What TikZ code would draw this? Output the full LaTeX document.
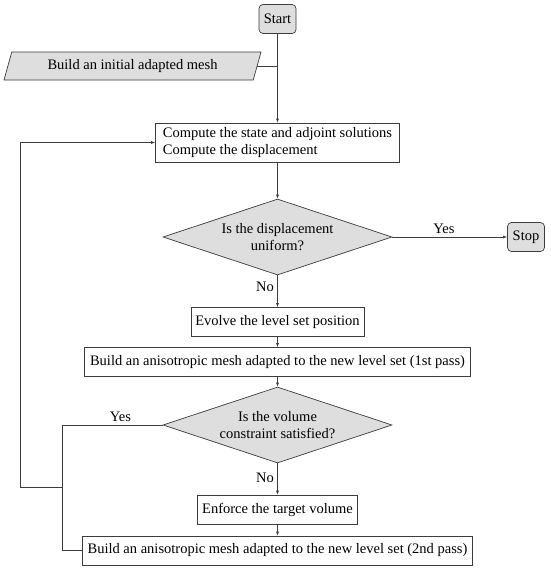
\documentclass[tikz,border=0pt]{standalone}
\usepackage{fontspec}
\setmainfont{Liberation Serif}
\usetikzlibrary{shapes.geometric,arrows.meta,calc}
\definecolor{boxfill}{RGB}{222,222,222}
\definecolor{linec}{RGB}{60,60,60}
\newcommand\fsz{\fontsize{14.5}{16.5}\selectfont}
\begin{document}
\begin{tikzpicture}[x=1pt,y=-1pt,
  every node/.style={font=\fsz, text=black},
  box/.style={draw=linec, line width=0.7pt, fill=white, inner sep=2pt, minimum height=29pt},
  term/.style={box, fill=boxfill, rounded corners=4pt, minimum width=37pt},
  dec/.style={diamond, draw=linec, line width=0.7pt, fill=boxfill, minimum width=229pt, minimum height=76pt, inner sep=0pt, aspect=3, align=center},
  io/.style={trapezium, trapezium left angle=65.6, trapezium right angle=114.4, trapezium stretches body, draw=linec, line width=0.7pt, fill=boxfill, minimum width=257pt, minimum height=28pt, inner sep=2pt},
  ln/.style={draw=linec, line width=0.6pt},
  arr/.style={ln, -{Latex[length=4pt,width=3pt]}}
]
\useasboundingbox (0,0) rectangle (550,570);

\node[term] (start) at (277.5,19) {Start};
\node[io] (init) at (132.5,66) {Build an initial adapted mesh};
\node[box, minimum width=244pt, minimum height=39pt, align=left] (comp) at (277.5,142.5) {Compute the state and adjoint solutions\\Compute the displacement};
\node[dec] (d1) at (277.5,237) {Is the displacement\\uniform?};
\node[term] (stop) at (526,237) {Stop};
\node[box, minimum width=173pt] (evol) at (277.5,322) {Evolve the level set position};
\node[box, minimum width=386pt] (p1) at (277.5,362) {Build an anisotropic mesh adapted to the new level set (1st pass)};
\node[dec] (d2) at (277.5,425) {Is the volume\\constraint satisfied?};
\node[box, minimum width=160pt] (enf) at (277.5,509.5) {Enforce the target volume};
\node[box, minimum width=390pt] (p2) at (277.5,550.5) {Build an anisotropic mesh adapted to the new level set (2nd pass)};

\coordinate (jx) at (62,0);
\coordinate (lx) at (20.5,0);
\coordinate (jy) at (0,487);

\draw[arr] (start) -- (comp);
\draw[ln] (init.east) -- (init.east -| start.south);
\draw[arr] (comp) -- (d1);
\draw[arr] (d1.east) -- node[pos=0.45, above] {Yes} (stop.west);
\draw[arr] (d1.south) -- node[pos=0.36, left] {No} (evol.north);
\draw[arr] (evol) -- (p1);
\draw[arr] (p1) -- (d2);
\draw[arr] (d2.south) -- node[pos=0.45, left] {No} (enf.north);
\draw[arr] (enf) -- (p2);
\draw[ln] (d2.west) -- node[pos=0.42, above] {Yes} (d2.west -| jx) -- (p2.west -| jx) -- (p2.west);
\draw[arr] (jx |- jy) -- (lx |- jy) -- (lx |- comp.west) -- (comp.west);
\end{tikzpicture}
\end{document}
